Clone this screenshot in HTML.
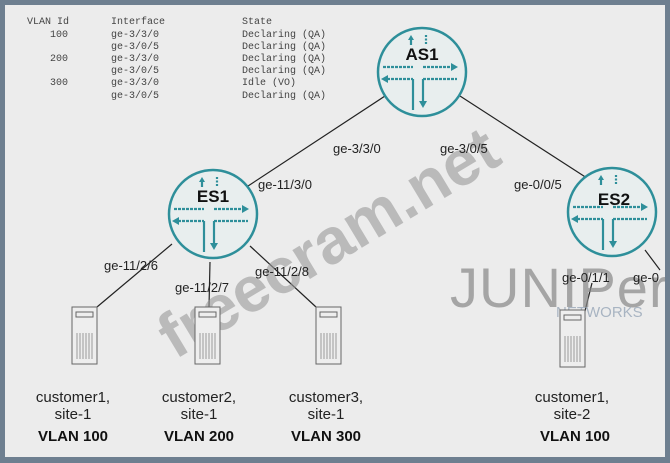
<!DOCTYPE html>
<html><head><meta charset="utf-8"><style>
html,body{margin:0;padding:0;}
body{width:670px;height:463px;background:#6e7f90;overflow:hidden;position:relative;}
svg{position:absolute;left:0;top:0;}
</style></head><body>
<svg width="670" height="463" viewBox="0 0 670 463" font-family="Liberation Sans, sans-serif">
<defs>
<g id="icon" stroke="#2e8f9a" stroke-width="2.2" fill="none">
<circle r="44" fill="#e8eeee" stroke="#2e8f9a" stroke-width="2.5"/>
<line x1="-11" y1="-27" x2="-11" y2="-34"/><path d="M-14,-32 L-11,-37 L-8,-32Z" fill="#2e8f9a" stroke="none"/>
<line x1="4" y1="-37" x2="4" y2="-27" stroke-dasharray="2,1.5"/>
<line x1="-39" y1="-5" x2="-9" y2="-5" stroke-dasharray="3,1"/>
<line x1="1" y1="-5" x2="30" y2="-5" stroke-dasharray="3,1"/><path d="M29,-9 L36,-5 L29,-1Z" fill="#2e8f9a" stroke="none"/>
<line x1="-35" y1="7" x2="-9" y2="7" stroke-dasharray="3,1"/><path d="M-34,3 L-41,7 L-34,11Z" fill="#2e8f9a" stroke="none"/>
<line x1="1" y1="7" x2="35" y2="7" stroke-dasharray="3,1"/>
<line x1="-9" y1="7" x2="-9" y2="38"/>
<line x1="1" y1="7" x2="1" y2="30"/><path d="M-3,29 L1,36 L5,29Z" fill="#2e8f9a" stroke="none"/>
</g>
<g id="srv" fill="#eeeeee" stroke="#666" stroke-width="1">
<rect x="0" y="0" width="25" height="57"/>
<rect x="4" y="5" width="17" height="5"/>
<g stroke="#999"><line x1="5" y1="26" x2="5" y2="52"/><line x1="8" y1="26" x2="8" y2="52"/><line x1="11" y1="26" x2="11" y2="52"/><line x1="14" y1="26" x2="14" y2="52"/><line x1="17" y1="26" x2="17" y2="52"/><line x1="20" y1="26" x2="20" y2="52"/></g>
</g>
</defs>
<rect x="5" y="5" width="660" height="452" fill="#ececec"/>
<g font-family="Liberation Mono, monospace" font-size="10" fill="#444">
<text x="27" y="24">VLAN Id</text><text x="111" y="24">Interface</text><text x="242" y="24">State</text>
<text x="50" y="37">100</text><text x="111" y="37">ge-3/3/0</text><text x="242" y="37">Declaring (QA)</text>
<text x="111" y="49">ge-3/0/5</text><text x="242" y="49">Declaring (QA)</text>
<text x="50" y="61">200</text><text x="111" y="61">ge-3/3/0</text><text x="242" y="61">Declaring (QA)</text>
<text x="111" y="73">ge-3/0/5</text><text x="242" y="73">Declaring (QA)</text>
<text x="50" y="85">300</text><text x="111" y="85">ge-3/3/0</text><text x="242" y="85">Idle      (VO)</text>
<text x="111" y="98">ge-3/0/5</text><text x="242" y="98">Declaring (QA)</text>
</g>
<g stroke="#222" stroke-width="1.2">
<line x1="385" y1="96" x2="245" y2="188"/>
<line x1="460" y1="96" x2="590" y2="180"/>
<line x1="172" y1="244" x2="97" y2="307"/>
<line x1="210" y1="262" x2="209" y2="307"/>
<line x1="250" y1="246" x2="316" y2="307"/>
<line x1="592" y1="283" x2="584" y2="315"/>
<line x1="645" y1="250" x2="660" y2="270"/>
</g>
<text x="0" y="0" transform="translate(175,360) rotate(-31)" font-size="64" font-weight="bold" fill="#9a9a9a" fill-opacity="0.6">freecram.net</text>
<text x="450" y="307" font-size="56" fill="#888" fill-opacity="0.7" letter-spacing="1">JUNIPer</text>
<text x="556" y="317" font-size="15" fill="#a8b4c2">NETWORKS</text>
<use href="#icon" x="422" y="72"/>
<use href="#icon" x="213" y="214"/>
<use href="#icon" x="612" y="212"/>
<g font-size="17" font-weight="bold" fill="#111" text-anchor="middle">
<text x="422" y="60">AS1</text><text x="213" y="202">ES1</text><text x="614" y="205">ES2</text>
</g>
<g font-size="13" fill="#222">
<text x="333" y="153">ge-3/3/0</text><text x="440" y="153">ge-3/0/5</text>
<text x="258" y="189">ge-11/3/0</text><text x="514" y="189">ge-0/0/5</text>
<text x="104" y="270">ge-11/2/6</text><text x="175" y="292">ge-11/2/7</text><text x="255" y="276">ge-11/2/8</text>
<text x="562" y="282">ge-0/1/1</text><text x="633" y="282">ge-0</text>
</g>
<use href="#srv" x="72" y="307"/>
<use href="#srv" x="195" y="307"/>
<use href="#srv" x="316" y="307"/>
<use href="#srv" x="560" y="310"/>
<g font-size="15" fill="#222" text-anchor="middle">
<text x="73" y="402">customer1,</text><text x="73" y="419">site-1</text>
<text x="199" y="402">customer2,</text><text x="199" y="419">site-1</text>
<text x="326" y="402">customer3,</text><text x="326" y="419">site-1</text>
<text x="572" y="402">customer1,</text><text x="572" y="419">site-2</text>
</g>
<g font-size="15" font-weight="bold" fill="#111" text-anchor="middle">
<text x="73" y="441">VLAN 100</text><text x="199" y="441">VLAN 200</text><text x="326" y="441">VLAN 300</text><text x="575" y="441">VLAN 100</text>
</g>
<rect x="665" y="0" width="5" height="463" fill="#6e7f90"/>
<rect x="0" y="457" width="670" height="6" fill="#6e7f90"/>
</svg>
</body></html>
